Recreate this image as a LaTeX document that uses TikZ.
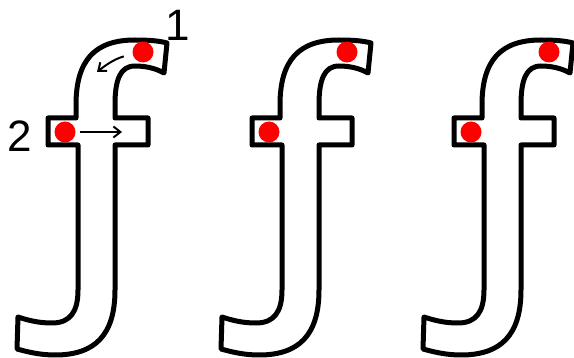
\documentclass[tikz,border=0pt]{standalone}
\usepackage{fontspec}
\setmainfont{Liberation Sans}
\usetikzlibrary{arrows.meta}

\begin{document}
\begin{tikzpicture}[x=1pt, y=-1pt,
    outline/.style={line width=5pt, line join=round, fill=white},
    dot/.style={circle, fill=red, inner sep=0pt, minimum size=21pt},
    num/.style={font=\fontsize{44}{44}\selectfont, inner sep=0pt},
    hint/.style={-{Straight Barb[length=7pt, width=11pt]}, line width=2pt}
  ]
  \useasboundingbox (0,0) rectangle (574,358);

  % the three letters
  \foreach \dx/\id in {0/a, 204/b, 406/c} {
    \begin{scope}[shift={(\dx,0)}]
      \draw[outline] (48,118) -- (76,118) -- (76,105)
        .. controls (76,60) and (95,40) .. (135,40)
        .. controls (150,40) and (160,41) .. (167,43) -- (164,73)
        .. controls (155,68) and (145,66) .. (135,66)
        .. controls (120,66) and (115,80) .. (115,105)
        -- (115,118) -- (148,118) -- (148,145) -- (115,145) -- (115,290)
        .. controls (115,335) and (95,355) .. (55,355)
        .. controls (40,355) and (28,352) .. (17,349) -- (18,317)
        .. controls (30,321) and (40,323) .. (52,323)
        .. controls (70,323) and (78,312) .. (78,290)
        -- (78,145) -- (48,145) -- cycle;
      \node[dot] (top-\id) at (143,52) {};
      \node[dot] (bar-\id) at (65,132) {};
    \end{scope}
  }

  \node[num] (one) at (178,25) {1};
  \node[num] (two) at (20,136) {2};

  \coordinate (tipA) at (97,72);
  \coordinate (tipB) at (122,132);
  \draw[hint, shorten <=9pt] (top-a) to[bend right=12] (tipA);
  \draw[hint, shorten <=4pt] (bar-a) -- (tipB);
\end{tikzpicture}
\end{document}
